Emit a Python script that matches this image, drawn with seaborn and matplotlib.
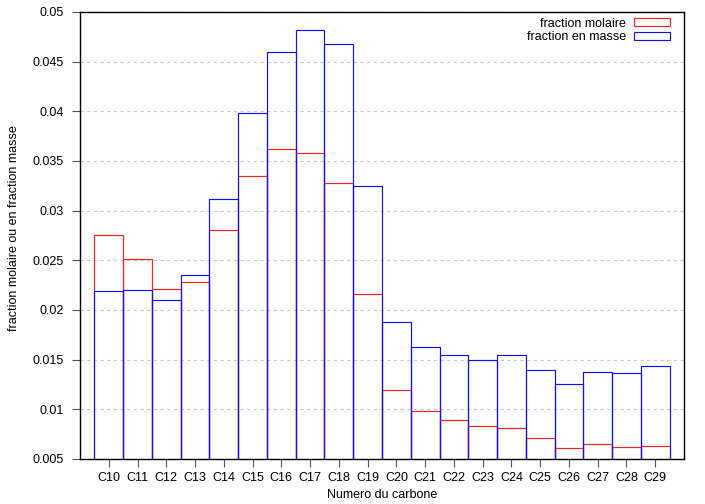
import numpy as np
import pandas as pd
import matplotlib
matplotlib.use("Agg")
import matplotlib.pyplot as plt
from matplotlib.patches import Patch
import seaborn as sns

# Data
carbones = ["C10", "C11", "C12", "C13", "C14", "C15", "C16", "C17", "C18", "C19",
            "C20", "C21", "C22", "C23", "C24", "C25", "C26", "C27", "C28", "C29"]
fraction_molaire = [0.0275, 0.0251, 0.0221, 0.0228, 0.0281, 0.0335, 0.0362, 0.0358, 0.0328, 0.0216,
                    0.0119, 0.0098, 0.0089, 0.0083, 0.0081, 0.0071, 0.0061, 0.0065, 0.0062, 0.0063]
fraction_masse = [0.0219, 0.0220, 0.0210, 0.0235, 0.0312, 0.0398, 0.0460, 0.0482, 0.0468, 0.0325,
                  0.0188, 0.0163, 0.0155, 0.0150, 0.0155, 0.0140, 0.0125, 0.0138, 0.0137, 0.0144]
yticks = [0.005, 0.01, 0.015, 0.02, 0.025, 0.03, 0.035, 0.04, 0.045, 0.05]

df = pd.DataFrame({"carbone": carbones, "molaire": fraction_molaire, "masse": fraction_masse})

plt.rcParams["font.family"] = ["Liberation Sans", "DejaVu Sans"]
plt.rcParams["font.size"] = 9

fig = plt.figure(figsize=(7.05, 5.04), dpi=100)
ax = fig.add_axes([0.1135, 0.0893, 0.8567, 0.8869])

# ------------------ Boxes (outline only) ------------------
sns.barplot(data=df, x="carbone", y="molaire", fill=False, color="#ff2020", width=1,
            linewidth=0.85, errorbar=None, ax=ax, zorder=3)
sns.barplot(data=df, x="carbone", y="masse", fill=False, color="#1010ff", width=1,
            linewidth=0.85, errorbar=None, ax=ax, zorder=4)

ax.set_xlim(-1, 20)
ax.set_ylim(0.005, 0.05)
ax.set_yticks(yticks)
ax.set_yticklabels(["%g" % v for v in yticks])
ax.yaxis.grid(True, linestyle=(0, (3, 3)), color="#cccccc", linewidth=0.8, zorder=0)
ax.set_axisbelow(True)
ax.tick_params(axis="both", direction="out", length=5.5, width=0.8, colors="#555555",
               labelcolor="black", labelsize=9)
ax.tick_params(axis="y", pad=6)
ax.tick_params(axis="x", pad=4)

for s in ax.spines.values():
    s.set_color("black")
    s.set_linewidth(1.0)

ax.set_xlabel("Numero du carbone", fontsize=9)
ax.set_ylabel("fraction molaire ou en fraction masse", fontsize=9)
ax.xaxis.set_label_coords(0.5, -0.067)
ax.yaxis.set_label_coords(-0.099, 0.516)

handles = [Patch(facecolor="none", edgecolor="#ff2020", linewidth=0.85),
           Patch(facecolor="none", edgecolor="#1010ff", linewidth=0.85)]
ax.legend(handles, ["fraction molaire", "fraction en masse"], loc="upper right",
          bbox_to_anchor=(0.977, 0.987), frameon=False, markerfirst=False,
          borderaxespad=0, borderpad=0,
          handlelength=2.9, handleheight=0.6, handletextpad=0.6, labelspacing=0.1,
          fontsize=9)

fig.savefig("out.png", dpi=100)
